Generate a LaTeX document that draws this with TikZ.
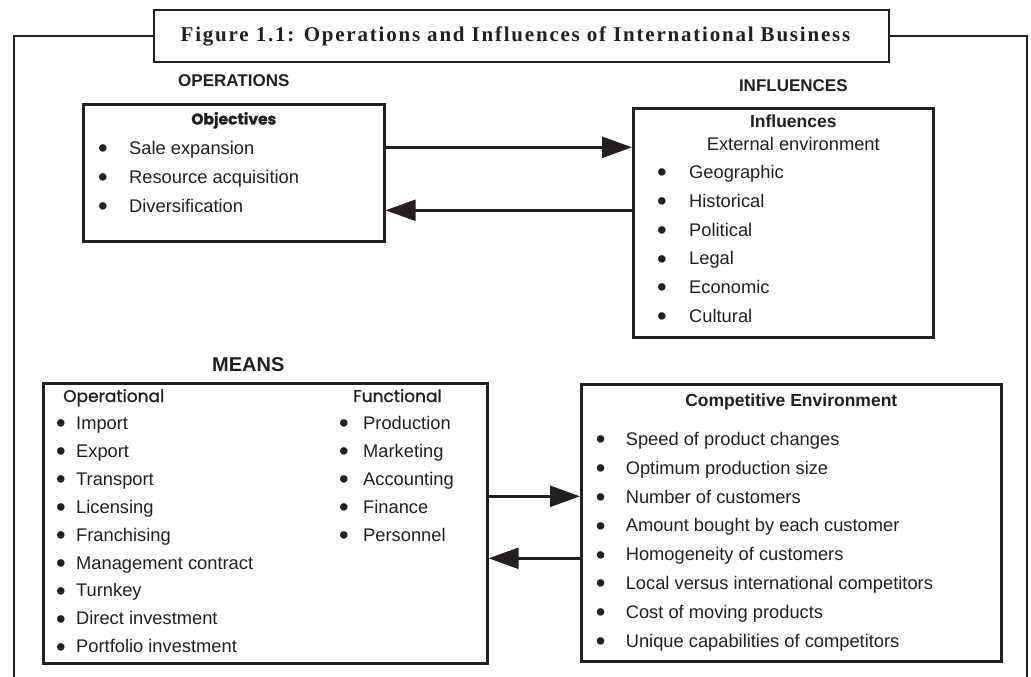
\documentclass[tikz,border=0pt]{standalone}
\usepackage{fontspec}
\usepackage{graphicx}
\setmainfont{Liberation Sans}
\newfontfamily\titlefont[LetterSpace=8.5]{Liberation Serif}
\newfontfamily\geofont[FakeBold=1.2]{Poppins}
\usetikzlibrary{arrows.meta,positioning}
\definecolor{ink}{HTML}{231F20}
\newcommand{\dotmark}{\raisebox{-3.3pt}{\scalebox{1.5}{\textbullet}}}

\begin{document}
\begin{tikzpicture}[
x=1pt, y=-1pt,
color=ink,
box/.style={draw=ink, line width=2.6pt, inner sep=0pt, anchor=north west},
link/.style={line width=2.4pt, -{Triangle[length=30pt,width=21pt]}},
caption/.style={font=\fontsize{17}{20}\selectfont\bfseries, anchor=base, inner sep=0pt},
head/.style={font=\fontsize{17.5}{20}\selectfont\bfseries, anchor=base, inner sep=0pt},
items/.style={font=\fontsize{18.3}{28.8}\selectfont, inner sep=0pt, anchor=base west}
]

\useasboundingbox (0,0) rectangle (1031,677);

%%%%%%%%%%%%%%%%%%%%%%%%%%%%%%%%%%%%%%%%%%%%%%%%%%%%%%
% TITLE AND OUTER FRAME
%%%%%%%%%%%%%%%%%%%%%%%%%%%%%%%%%%%%%%%%%%%%%%%%%%%%%%

\node[
draw=ink,
line width=2.6pt,
fill=white,
minimum width=735pt,
minimum height=52pt
] (title) at (521.5,36)
{};

\node[font=\fontsize{21}{24}\selectfont\titlefont\bfseries]
at ([xshift=-6pt]title.center)
{Figure 1.1: Operations and Influences of International Business};

\coordinate (frameleft) at (14,677);
\coordinate (frameright) at (1027,677);

\draw[line width=2.6pt] (title.west) -- (title.west -| frameleft) -- (frameleft);
\draw[line width=2.6pt] (title.east) -- (title.east -| frameright) -- (frameright);

%%%%%%%%%%%%%%%%%%%%%%%%%%%%%%%%%%%%%%%%%%%%%%%%%%%%%%
% OPERATIONS
%%%%%%%%%%%%%%%%%%%%%%%%%%%%%%%%%%%%%%%%%%%%%%%%%%%%%%

\node[
box,
minimum width=301pt,
minimum height=137pt
] (objectives) at (82,103)
{};

\node[caption]
at ([yshift=16pt]objectives.north)
{OPERATIONS};

\node[head, font=\fontsize{15.5}{18}\selectfont\geofont\bfseries]
at ([yshift=-21.5pt]objectives.north)
{Objectives};

\node[items] (objlist)
at ([xshift=16pt,yshift=-51.5pt]objectives.north west)
{\begin{tabular}[t]{@{}p{31pt}@{}l@{}}
\dotmark & Sale expansion\\
\dotmark & Resource acquisition\\
\dotmark & Diversification
\end{tabular}};

%%%%%%%%%%%%%%%%%%%%%%%%%%%%%%%%%%%%%%%%%%%%%%%%%%%%%%
% INFLUENCES
%%%%%%%%%%%%%%%%%%%%%%%%%%%%%%%%%%%%%%%%%%%%%%%%%%%%%%

\node[
box,
minimum width=300pt,
minimum height=229pt
] (influences) at (632,107)
{};

\node[caption]
at ([xshift=10pt,yshift=15pt]influences.north)
{INFLUENCES};

\node[head]
at ([xshift=10pt,yshift=-20.5pt]influences.north)
{Influences};

\node[items, anchor=base]
at ([xshift=10pt,yshift=-43.5pt]influences.north)
{External environment};

\node[items] (inflist)
at ([xshift=25pt,yshift=-71.5pt]influences.north west)
{\begin{tabular}[t]{@{}p{32pt}@{}l@{}}
\dotmark & Geographic\\
\dotmark & Historical\\
\dotmark & Political\\
\dotmark & Legal\\
\dotmark & Economic\\
\dotmark & Cultural
\end{tabular}};

% arrows between objectives and influences
\coordinate (objout) at ([yshift=25.5pt]objectives.east);
\coordinate (objin) at ([yshift=-37.5pt]objectives.east);

\draw[link] (objout) -- (objout -| influences.west);
\draw[link] (objin -| influences.west) -- (objin);

%%%%%%%%%%%%%%%%%%%%%%%%%%%%%%%%%%%%%%%%%%%%%%%%%%%%%%
% MEANS
%%%%%%%%%%%%%%%%%%%%%%%%%%%%%%%%%%%%%%%%%%%%%%%%%%%%%%

\node[
box,
minimum width=444pt,
minimum height=280pt
] (means) at (42,382)
{};

\node[caption, font=\fontsize{20}{24}\selectfont\bfseries]
at ([xshift=-17pt,yshift=11pt]means.north)
{MEANS};

\node[anchor=base west, inner sep=0pt, font=\fontsize{17}{20}\selectfont\geofont]
at ([xshift=21pt,yshift=-20pt]means.north west)
{Operational};

\node[anchor=base west, inner sep=0pt, font=\fontsize{17}{20}\selectfont\geofont]
at ([xshift=311pt,yshift=-20pt]means.north west)
{Functional};

\node[items, font=\fontsize{18.3}{27.9}\selectfont] (oplist)
at ([xshift=14pt,yshift=-47.5pt]means.north west)
{\begin{tabular}[t]{@{}p{20pt}@{}l@{}}
\dotmark & Import\\
\dotmark & Export\\
\dotmark & Transport\\
\dotmark & Licensing\\
\dotmark & Franchising\\
\dotmark & Management contract\\
\dotmark & Turnkey\\
\dotmark & Direct investment\\
\dotmark & Portfolio investment
\end{tabular}};

\node[items, font=\fontsize{18.3}{27.9}\selectfont] (funclist)
at ([xshift=297pt,yshift=-47.5pt]means.north west)
{\begin{tabular}[t]{@{}p{24pt}@{}l@{}}
\dotmark & Production\\
\dotmark & Marketing\\
\dotmark & Accounting\\
\dotmark & Finance\\
\dotmark & Personnel
\end{tabular}};

%%%%%%%%%%%%%%%%%%%%%%%%%%%%%%%%%%%%%%%%%%%%%%%%%%%%%%
% COMPETITIVE ENVIRONMENT
%%%%%%%%%%%%%%%%%%%%%%%%%%%%%%%%%%%%%%%%%%%%%%%%%%%%%%

\node[
box,
minimum width=420pt,
minimum height=277pt
] (competitive) at (580,383)
{};

\node[head]
at ([yshift=-23.5pt]competitive.north)
{Competitive Environment};

\node[items] (complist)
at ([xshift=15.6pt,yshift=-62.5pt]competitive.north west)
{\begin{tabular}[t]{@{}p{30pt}@{}l@{}}
\dotmark & Speed of product changes\\
\dotmark & Optimum production size\\
\dotmark & Number of customers\\
\dotmark & Amount bought by each customer\\
\dotmark & Homogeneity of customers\\
\dotmark & Local versus international competitors\\
\dotmark & Cost of moving products\\
\dotmark & Unique capabilities of competitors
\end{tabular}};

% arrows between means and competitive environment
\coordinate (meansout) at ([yshift=27pt]means.east);
\coordinate (meansin) at ([yshift=-35pt]means.east);

\draw[link] (meansout) -- (meansout -| competitive.west);
\draw[link] (meansin -| competitive.west) -- (meansin);

\end{tikzpicture}
\end{document}
